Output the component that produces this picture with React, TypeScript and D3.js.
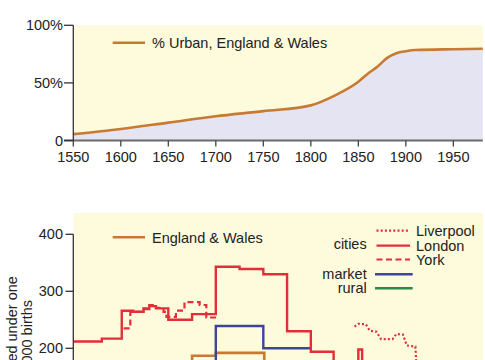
import { useEffect, useRef } from 'react';
import * as d3 from 'd3';

// top panel: % urban population, England & Wales
const urbanYears = [1550, 1600, 1650, 1700, 1750, 1800, 1825, 1850, 1860, 1870, 1880, 1890, 1900, 1910, 1950, 1981];
const urbanPct = [5.5, 10, 15.5, 21, 25.5, 30.5, 39, 51, 58, 64, 71.5, 75.8, 77.5, 78.5, 79.2, 79.6];

const yearTicks = [1550, 1600, 1650, 1700, 1750, 1800, 1850, 1900, 1950];
const pctTicks = [0, 50, 100];
const pctLabels = ['0', '50%', '100%'];

// bottom panel: infant deaths under one per 1000 births (step series)
const londonYears = [1550, 1580, 1601, 1613, 1624, 1630, 1637, 1650, 1675, 1700, 1725, 1750, 1775, 1800, 1824, 1850, 1854];
const londonVals = [212, 217, 266, 264, 269, 274, 270, 250, 260, 343, 339, 330, 230, 194, 150, 198, 150];

const yorkYears = [1603, 1610, 1624, 1630, 1637, 1645, 1648, 1658, 1667, 1683, 1690, 1701];
const yorkVals = [235, 264, 270, 276, 271, 264, 255, 266, 281, 276, 254, 254];

const marketYears = [1680, 1700, 1750, 1800];
const marketVals = [150, 239, 200, 200];

const englandYears = [1650, 1675, 1700, 1751, 1775];
const englandVals = [150, 187, 192, 150, 150];

const liverpoolYears = [1846, 1850, 1858, 1862, 1869, 1874, 1886, 1890, 1897, 1901, 1910, 1911, 1913];
const liverpoolVals = [238, 243, 242, 231, 229, 216, 216, 225, 224, 205, 203, 175, 140];

const deathTicks = [0, 100, 200, 300, 400];

const FONT = 'Liberation Sans, Arial, Helvetica, sans-serif';
const TEXT = '#222';
const RED = '#e52d3a';
const BLUE = '#3c4596';
const GREEN = '#2b8a48';
const ORANGE = '#c77a32';

const App = () => {
  const svgRef = useRef<SVGSVGElement>(null);

  useEffect(() => {
    if (!svgRef.current) return;
    const svg = d3.select(svgRef.current);
    svg.selectAll('*').remove();

    const x = d3.scaleLinear().domain([1550, 1981]).range([73.3, 482.8]);

    // ---------- top panel ----------
    const yTop = d3.scaleLinear().domain([0, 100]).range([140.5, 25.3]);
    const top = svg.append('g');

    top.append('rect')
      .attr('x', x(1550)).attr('y', yTop(100))
      .attr('width', x(1981) - x(1550)).attr('height', yTop(0) - yTop(100))
      .attr('fill', '#fefbdc');

    const urban = urbanYears.map((yr, i) => [yr, urbanPct[i]] as [number, number]);
    const area = d3.area<[number, number]>()
      .x(d => x(d[0])).y0(yTop(0)).y1(d => yTop(d[1]))
      .curve(d3.curveMonotoneX);
    const line = d3.line<[number, number]>()
      .x(d => x(d[0])).y(d => yTop(d[1]))
      .curve(d3.curveMonotoneX);

    top.append('path').attr('d', area(urban)).attr('fill', '#e5e4f3');
    top.append('path').attr('d', line(urban))
      .attr('fill', 'none').attr('stroke', ORANGE).attr('stroke-width', 2.6);

    // x axis
    top.append('line')
      .attr('x1', 64).attr('x2', x(1981))
      .attr('y1', yTop(0)).attr('y2', yTop(0))
      .attr('stroke', '#6a6a6a').attr('stroke-width', 2);
    yearTicks.forEach(t => {
      top.append('line')
        .attr('x1', x(t)).attr('x2', x(t))
        .attr('y1', yTop(0)).attr('y2', yTop(0) + 6)
        .attr('stroke', '#444').attr('stroke-width', 1.3);
      top.append('text')
        .attr('x', x(t)).attr('y', 161.5)
        .attr('text-anchor', 'middle')
        .attr('font-family', FONT).attr('font-size', 14.5).attr('fill', TEXT)
        .text(t);
    });

    // y axis
    top.append('line')
      .attr('x1', 73.3).attr('x2', 73.3)
      .attr('y1', yTop(100)).attr('y2', yTop(0))
      .attr('stroke', '#333').attr('stroke-width', 1.3);
    pctTicks.forEach((t, i) => {
      top.append('line')
        .attr('x1', 64).attr('x2', 73.3)
        .attr('y1', yTop(t)).attr('y2', yTop(t))
        .attr('stroke', '#333').attr('stroke-width', 1.3);
      top.append('text')
        .attr('x', 63).attr('y', yTop(t))
        .attr('dy', '0.35em')
        .attr('text-anchor', 'end')
        .attr('font-family', FONT).attr('font-size', 14.5).attr('fill', TEXT)
        .text(pctLabels[i]);
    });

    // legend
    top.append('line')
      .attr('x1', 112.7).attr('x2', 145).attr('y1', 42.7).attr('y2', 42.7)
      .attr('stroke', ORANGE).attr('stroke-width', 2.6);
    top.append('text')
      .attr('x', 152).attr('y', 43).attr('dy', '0.35em')
      .attr('font-family', FONT).attr('font-size', 14.5).attr('fill', TEXT)
      .text('% Urban, England & Wales');

    // ---------- bottom panel ----------
    const yBot = d3.scaleLinear().domain([0, 400]).range([462.3, 234.3]);
    const bot = svg.append('g');

    bot.append('rect')
      .attr('x', x(1550)).attr('y', 213)
      .attr('width', x(1981) - x(1550)).attr('height', 260)
      .attr('fill', '#fefbdc');

    const step = d3.line<[number, number]>()
      .x(d => x(d[0])).y(d => yBot(d[1]))
      .curve(d3.curveStepAfter);
    const straight = d3.line<[number, number]>()
      .x(d => x(d[0])).y(d => yBot(d[1]));

    const pairs = (ys: number[], vs: number[]) => ys.map((yr, i) => [yr, vs[i]] as [number, number]);

    bot.append('path').attr('d', step(pairs(englandYears, englandVals)))
      .attr('fill', 'none').attr('stroke', ORANGE).attr('stroke-width', 2.6);
    bot.append('path').attr('d', step(pairs(marketYears, marketVals)))
      .attr('fill', 'none').attr('stroke', BLUE).attr('stroke-width', 2.4);
    bot.append('path').attr('d', step(pairs(yorkYears, yorkVals)))
      .attr('fill', 'none').attr('stroke', RED).attr('stroke-width', 2.2)
      .attr('stroke-dasharray', '6,3.5');
    bot.append('path').attr('d', step(pairs(londonYears, londonVals)))
      .attr('fill', 'none').attr('stroke', RED).attr('stroke-width', 2.4);
    bot.append('path').attr('d', straight(pairs(liverpoolYears, liverpoolVals)))
      .attr('fill', 'none').attr('stroke', RED).attr('stroke-width', 2.2)
      .attr('stroke-dasharray', '2,2.2');

    // y axis
    bot.append('line')
      .attr('x1', 73.3).attr('x2', 73.3)
      .attr('y1', yBot(400)).attr('y2', yBot(0))
      .attr('stroke', '#333').attr('stroke-width', 1.3);
    deathTicks.forEach(t => {
      bot.append('line')
        .attr('x1', 65.5).attr('x2', 73.3)
        .attr('y1', yBot(t)).attr('y2', yBot(t))
        .attr('stroke', '#333').attr('stroke-width', 1.3);
      bot.append('text')
        .attr('x', 63).attr('y', yBot(t)).attr('dy', '0.35em')
        .attr('text-anchor', 'end')
        .attr('font-family', FONT).attr('font-size', 14.5).attr('fill', TEXT)
        .text(t);
    });

    // y label (two lines, rotated)
    [['Infants died under one', 16.5], ['per 1000 births', 32]].forEach(([s, tx]) => {
      bot.append('text')
        .attr('transform', `translate(${tx},${yBot(200)}) rotate(-90)`)
        .attr('text-anchor', 'middle')
        .attr('font-family', FONT).attr('font-size', 14.5).attr('fill', TEXT)
        .text(s as string);
    });

    // legend: England & Wales
    bot.append('line')
      .attr('x1', 112.7).attr('x2', 145).attr('y1', 237.3).attr('y2', 237.3)
      .attr('stroke', ORANGE).attr('stroke-width', 2.6);
    bot.append('text')
      .attr('x', 152).attr('y', 237.5).attr('dy', '0.35em')
      .attr('font-family', FONT).attr('font-size', 14.5).attr('fill', TEXT)
      .text('England & Wales');

    // legend: cities / market / rural
    const legendRows = [
      { y: 230.7, color: RED, dash: '2,2.2', name: 'Liverpool' },
      { y: 245.7, color: RED, dash: null, name: 'London' },
      { y: 259.5, color: RED, dash: '6,3.5', name: 'York' },
    ];
    legendRows.forEach(r => {
      bot.append('line')
        .attr('x1', 376.5).attr('x2', 410).attr('y1', r.y).attr('y2', r.y)
        .attr('stroke', r.color).attr('stroke-width', 2.2)
        .attr('stroke-dasharray', r.dash);
      bot.append('text')
        .attr('x', 416).attr('y', r.y + 0.5).attr('dy', '0.35em')
        .attr('font-family', FONT).attr('font-size', 14.5).attr('fill', TEXT)
        .text(r.name);
    });
    const groupRows = [
      { y: 244, label: 'cities', color: null },
      { y: 274.3, label: 'market', color: BLUE },
      { y: 288.3, label: 'rural', color: GREEN },
    ];
    groupRows.forEach(r => {
      bot.append('text')
        .attr('x', 366.7).attr('y', r.y).attr('dy', '0.35em')
        .attr('text-anchor', 'end')
        .attr('font-family', FONT).attr('font-size', 14.5).attr('fill', TEXT)
        .text(r.label);
      if (r.color) {
        bot.append('line')
          .attr('x1', 375).attr('x2', 412.7).attr('y1', r.y).attr('y2', r.y)
          .attr('stroke', r.color).attr('stroke-width', 2.4);
      }
    });
  }, []);

  return (
    <svg
      ref={svgRef}
      width={485}
      height={360}
      style={{ position: 'absolute', left: 0, top: 0, background: '#fff' }}
    />
  );
};

export default App;
